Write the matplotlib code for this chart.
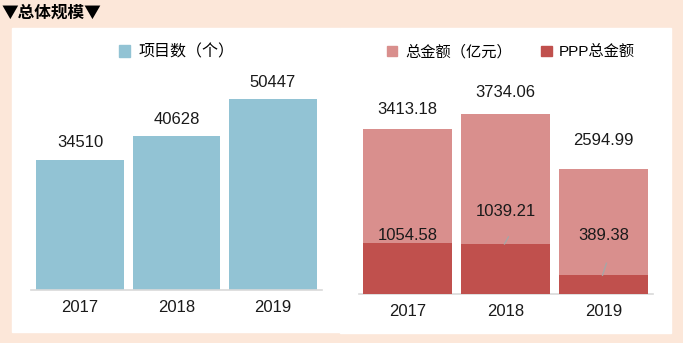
import matplotlib.pyplot as plt
from matplotlib.patches import Rectangle, Patch
from matplotlib.lines import Line2D

plt.rcParams['font.family'] = ['Liberation Sans', 'Noto Sans CJK SC', 'DejaVu Sans']

years = ['2017', '2018', '2019']
projects = [34510, 40628, 50447]
total_amount = [3413.18, 3734.06, 2594.99]
ppp_amount = [1054.58, 1039.21, 389.38]

blue = '#92c3d4'
light_red = '#d98f8d'
dark_red = '#c0504d'
peach = '#fce7d9'

W, H = 683, 343
fig = plt.figure(figsize=(W / 100, H / 100), dpi=100, facecolor=peach)


def box(x0, y0, x1, y1):
    # pixel box (top-left origin) -> figure fraction
    return [x0 / W, 1 - y1 / H, (x1 - x0) / W, (y1 - y0) / H]


# white panels
fig.patches.append(Rectangle((12 / W, 1 - 332 / H), (340 - 12) / W, (332 - 28) / H,
                             transform=fig.transFigure, color='white', zorder=-5))
fig.patches.append(Rectangle((340 / W, 1 - 333 / H), (671 - 340) / W, (333 - 28) / H,
                             transform=fig.transFigure, color='white', zorder=-5))

fig.text(2 / W, 1 - 13 / H, '▼总体规模▼', fontsize=12, fontweight='bold',
         family=['Noto Sans CJK SC', 'DejaVu Sans'], va='center', ha='left')

# left: project count
ax1 = fig.add_axes(box(31, 40, 322, 290))
ax1.set_zorder(2)
ax1.set_facecolor('none')
x = range(len(years))
ax1.bar(x, projects, width=0.91, color=blue, zorder=2)
ax1.set_xlim(-0.51, 2.51)
ax1.set_ylim(0, 66150)
for i, v in enumerate(projects):
    ax1.annotate(str(v), (i, v), xytext=(0, 17), textcoords='offset pixels',
                 ha='center', va='center', fontsize=12, color='#1a1a1a')
ax1.set_xticks(list(x))
ax1.set_xticklabels(years, fontsize=12, color='#1a1a1a')
ax1.tick_params(axis='x', length=0, pad=7)
ax1.set_yticks([])
for s in ['top', 'right', 'left']:
    ax1.spines[s].set_visible(False)
ax1.spines['bottom'].set_color('#d9d9d9')
ax1.spines['bottom'].set_linewidth(1.2)
ax1.legend(handles=[Patch(color=blue, label='项目数（个）')], loc='center',
           bbox_to_anchor=(0.5, (290 - 52) / 250), frameon=False, fontsize=11.5,
           handlelength=0.7, handleheight=0.7, handletextpad=0.5)

# right: total amount with PPP amount overlaid
ax2 = fig.add_axes(box(359, 40, 653, 294))
ax2.set_zorder(2)
ax2.set_facecolor('none')
ax2.bar(x, total_amount, width=0.90, color=light_red, zorder=2)
ax2.bar(x, ppp_amount, width=0.90, color=dark_red, zorder=3)
ax2.set_xlim(-0.495, 2.505)
ax2.set_ylim(0, 5270)
total_offsets = [20, 22, 28]
for i, v in enumerate(total_amount):
    ax2.annotate(f'{v:.2f}', (i, v), xytext=(0, total_offsets[i]), textcoords='offset pixels',
                 ha='center', va='center', fontsize=12, color='#1a1a1a', zorder=5)
# PPP labels, with short leader lines where the label sits off the bar top
ppp_label_y = [236, 211, 236]
leader_px = [0, 7, 12]
px_y = 5270 / 254
for i, v in enumerate(ppp_amount):
    ly = (294 - ppp_label_y[i]) * px_y
    ax2.text(i, ly, f'{v:.2f}', ha='center', va='center', fontsize=12,
             color='#1a1a1a', zorder=5)
    if leader_px[i]:
        ax2.add_line(Line2D([i - 0.01, i + 0.03], [v, v + leader_px[i] * px_y],
                            color='#a6a6a6', lw=1.0, zorder=4))
ax2.set_xticks(list(x))
ax2.set_xticklabels(years, fontsize=12, color='#1a1a1a')
ax2.tick_params(axis='x', length=0, pad=7)
ax2.set_yticks([])
for s in ['top', 'right', 'left']:
    ax2.spines[s].set_visible(False)
ax2.spines['bottom'].set_color('#d9d9d9')
ax2.spines['bottom'].set_linewidth(1.2)
ax2.legend(handles=[Patch(color=light_red, label='总金额（亿元）'),
                    Patch(color=dark_red, label='PPP总金额')],
           loc='center', ncol=2, bbox_to_anchor=(0.5 + 5 / 294, (294 - 52) / 254),
           frameon=False, fontsize=11, handlelength=0.7, handleheight=0.7,
           handletextpad=0.5, columnspacing=1.9)

fig.savefig('out.png', dpi=100, facecolor=peach)
